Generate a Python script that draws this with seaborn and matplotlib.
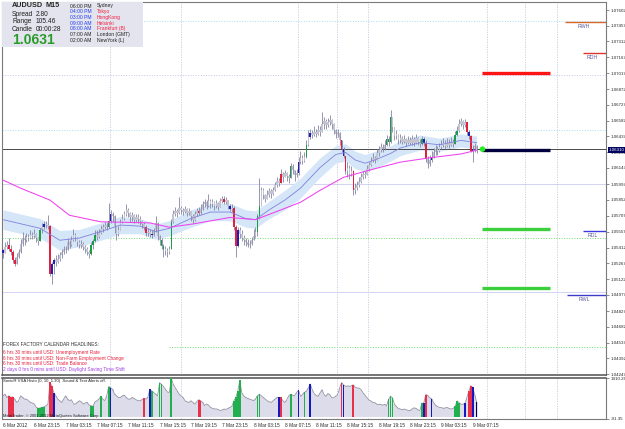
import numpy as np
import pandas as pd
import matplotlib
matplotlib.use("Agg")
import matplotlib.pyplot as plt
import matplotlib.transforms as mtransforms
from matplotlib.patches import Rectangle
import seaborn as sns

# ---------------- data (prices in pips above 1.04000) ----------------
first_open = 139
close = [
    136, 142, 144, 140, 137, 130, 126, 133, 137, 145,
    150, 148, 151, 150, 153, 152, 154, 150, 147, 157,
    160, 163, 162, 161, 117, 126, 130, 128, 131, 134,
    137, 140, 139, 146, 144, 148, 153, 151, 146, 144,
    145, 142, 140, 137, 135, 144, 147, 153, 151, 155,
    158, 160, 162, 160, 166, 172, 170, 160, 154, 157,
    165, 168, 172, 176, 173, 169, 171, 167, 169, 168,
    166, 163, 160, 155, 156, 154, 153, 157, 164, 152,
    148, 143, 140, 138, 137, 140, 165, 172, 175, 173,
    178, 176, 174, 177, 173, 175, 170, 167, 172, 175,
    173, 177, 181, 183, 180, 184, 181, 183, 180, 182,
    179, 184, 186, 183, 185, 180, 177, 178, 160, 143,
    157, 154, 150, 148, 146, 144, 145, 148, 152, 156,
    170, 180, 194, 190, 186, 190, 193, 191, 194, 199,
    203, 201, 209, 206, 210, 207, 205, 216, 213, 208,
    210, 220, 224, 221, 225, 236, 243, 247, 245, 248,
    246, 250, 248, 255, 258, 254, 257, 259, 255, 250,
    246, 247, 240, 232, 226, 212, 215, 209, 212, 194,
    196, 199, 202, 206, 209, 208, 214, 217, 221, 224,
    222, 228, 231, 234, 232, 236, 241, 239, 262, 252,
    244, 246, 240, 242, 239, 241, 238, 240, 238, 241,
    238, 242, 239, 237, 241, 238, 223, 218, 222, 224,
    229, 232, 230, 234, 236, 238, 235, 238, 236, 239,
    237, 245, 249, 255, 258, 254, 257, 248, 244, 230,
    232, 235, 231]
high = [
    140, 146, 147, 150, 144, 139, 133, 136, 140, 149,
    156, 153, 155, 154, 157, 156, 158, 155, 151, 159,
    164, 166, 166, 171, 162, 128, 132, 134, 135, 137,
    140, 143, 143, 150, 148, 152, 158, 155, 150, 148,
    148, 146, 144, 142, 139, 146, 149, 157, 157, 158,
    162, 163, 165, 164, 182, 176, 174, 171, 160, 161,
    168, 172, 175, 181, 178, 174, 174, 172, 172, 172,
    170, 167, 165, 162, 159, 158, 157, 159, 170, 165,
    153, 150, 145, 143, 141, 143, 168, 176, 179, 177,
    188, 180, 178, 180, 178, 178, 175, 172, 175, 178,
    179, 181, 184, 186, 185, 191, 186, 186, 184, 185,
    183, 187, 189, 189, 188, 185, 181, 181, 180, 162,
    160, 160, 157, 153, 150, 149, 148, 151, 158, 160,
    172, 205, 197, 196, 191, 194, 196, 195, 197, 202,
    206, 205, 214, 211, 213, 211, 209, 219, 218, 213,
    214, 225, 230, 227, 229, 240, 250, 251, 250, 253,
    251, 254, 253, 266, 262, 260, 261, 263, 260, 256,
    251, 251, 248, 240, 234, 226, 220, 217, 216, 213,
    201, 203, 206, 210, 212, 212, 217, 220, 225, 228,
    226, 232, 235, 238, 237, 240, 245, 244, 268, 262,
    252, 250, 245, 246, 244, 245, 242, 244, 243, 245,
    243, 246, 243, 241, 244, 243, 240, 226, 227, 230,
    233, 236, 235, 238, 240, 242, 240, 242, 241, 243,
    241, 249, 253, 260, 261, 259, 260, 257, 250, 245,
    236, 238, 236]
low = [
    132, 136, 140, 138, 134, 127, 124, 126, 132, 136,
    143, 144, 146, 147, 149, 149, 150, 146, 144, 147,
    155, 158, 159, 158, 115, 108, 117, 124, 127, 129,
    132, 135, 136, 140, 141, 143, 147, 147, 143, 141,
    141, 139, 136, 134, 132, 134, 140, 146, 148, 150,
    154, 156, 158, 157, 159, 164, 165, 155, 148, 152,
    158, 164, 167, 170, 169, 165, 166, 164, 165, 164,
    162, 159, 157, 152, 152, 151, 150, 152, 156, 148,
    144, 140, 133, 134, 133, 135, 140, 164, 170, 169,
    172, 172, 171, 173, 170, 171, 166, 164, 166, 170,
    171, 172, 176, 179, 177, 179, 178, 179, 176, 178,
    176, 179, 182, 181, 181, 177, 175, 174, 157, 133,
    142, 150, 147, 144, 143, 142, 141, 144, 148, 151,
    152, 168, 180, 186, 183, 186, 188, 187, 190, 193,
    197, 198, 201, 202, 206, 203, 201, 205, 209, 203,
    206, 208, 218, 218, 220, 224, 235, 241, 242, 244,
    243, 245, 244, 248, 251, 251, 252, 254, 251, 246,
    242, 243, 236, 229, 224, 209, 206, 204, 207, 190,
    191, 194, 197, 201, 204, 205, 209, 212, 216, 220,
    219, 222, 226, 229, 229, 231, 235, 235, 238, 248,
    240, 241, 237, 238, 237, 238, 235, 237, 236, 236,
    235, 237, 236, 234, 236, 235, 220, 215, 216, 220,
    224, 227, 227, 229, 232, 234, 232, 234, 233, 235,
    234, 237, 244, 248, 253, 251, 252, 245, 241, 229,
    220, 229, 228]
volume = [
    1040, 1120, 960, 1040, 960, 990, 880, 720, 800, 1040,
    960, 880, 880, 800, 720, 690, 640, 480, 430, 450,
    480, 500, 560, 640, 1700, 1500, 1200, 1040, 880, 800,
    720, 880, 1040, 880, 800, 850, 640, 640, 720, 800,
    750, 640, 690, 720, 590, 560, 530, 750, 800, 880,
    1010, 880, 800, 1040, 1490, 1440, 1360, 1120, 1040, 960,
    960, 1040, 1070, 960, 880, 880, 960, 910, 850, 800,
    800, 850, 910, 880, 960, 1360, 1280, 1200, 1120, 1040,
    1680, 1600, 1490, 1360, 1230, 1200, 1900, 1600, 1440, 1280,
    1120, 1040, 960, 800, 750, 720, 800, 720, 640, 750,
    850, 800, 720, 560, 640, 590, 480, 430, 400, 400,
    370, 320, 350, 400, 370, 430, 480, 530, 800, 960,
    1280, 1790, 1200, 1040, 960, 910, 880, 850, 800, 880,
    1040, 1120, 1040, 960, 880, 800, 750, 720, 800, 880,
    960, 960, 960, 800, 720, 850, 1040, 1120, 1070, 1040,
    1200, 1310, 1020, 1100, 1210, 1260, 1420, 1620, 1340, 1150,
    1060, 1020, 1180, 1340, 1100, 1020, 1150, 1100, 945, 945,
    1020, 1100, 1420, 1685, 1575, 1500, 1530, 1500, 1530, 1575,
    1460, 1420, 1420, 1340, 1180, 1060, 945, 835, 790, 710,
    710, 630, 615, 630, 580, 630, 550, 865, 1020, 945,
    630, 520, 425, 395, 360, 395, 360, 330, 315, 395,
    455, 425, 360, 315, 680, 680, 1100, 1060, 945, 900,
    710, 580, 520, 470, 470, 425, 455, 470, 425, 395,
    425, 520, 790, 710, 630, 630, 680, 945, 1260, 1530,
    1460, 1100, 740]

candle_red = [3, 4, 5, 6, 24, 73, 100, 113, 118, 119, 142, 173, 175, 179, 216, 237, 239]
candle_green = [19, 45, 46, 47, 54, 81, 82, 86, 130, 131, 147, 155, 196, 197, 198, 214, 231, 232]
candle_blue = [0, 21, 25, 26, 55, 76, 116, 120, 151, 157, 174, 215, 219, 238, 240]

vol_red = [3, 4, 5, 24, 25, 72, 100, 101, 142, 173, 179, 216, 238, 239]
vol_green = [18, 19, 20, 21, 45, 46, 50, 54, 76, 80, 81, 86, 118, 119, 120, 121,
             130, 131, 147, 154, 197, 198, 199, 214, 231, 232, 233]
vol_blue = [26, 55, 75, 141, 151, 157, 174, 215, 219, 236, 240]
vol_navy = [242]

# moving averages at a few bars
pink_x = [0, 9, 24, 34, 50, 75, 85, 97, 116, 129, 142, 152, 162, 174, 188, 203, 218, 234, 242]
pink_p = [203.5, 196, 185, 171, 165, 164, 160, 163, 169, 167, 176, 183, 194, 206, 213, 220, 224, 227.5, 231]
blue_x = [0, 19, 29, 39, 50, 60, 70, 78, 85, 96, 106, 116, 124, 129, 136, 144, 152, 162, 170, 175,
          180, 185, 190, 198, 203, 213, 223, 234, 242]
blue_p = [167, 159, 148, 150, 156, 162, 161, 156, 159, 168, 174, 174, 168, 167, 176, 185, 196, 215, 227, 229,
          222, 219, 222, 228, 233, 238, 236, 240, 238]
band_w = [9, 9, 9, 8, 8, 8, 7, 7, 7, 8, 8, 8, 8, 8, 8, 9, 9, 9, 8, 8, 8, 8, 8, 7, 7, 7, 6, 6, 6]

price_ticks = [1.07602, 1.07457, 1.07312, 1.07167, 1.07017, 1.06872, 1.06727, 1.06582, 1.06437,
               1.06292, 1.06147, 1.05997, 1.05852, 1.05707, 1.05557, 1.05412, 1.05267, 1.05122,
               1.04977, 1.04827, 1.04682, 1.04537, 1.04392, 1.04247]
time_labels = ["6 Mar 2012", "6 Mar 23:15", "7 Mar 03:15", "7 Mar 07:15", "7 Mar 11:15",
               "7 Mar 15:15", "7 Mar 19:15", "7 Mar 23:15", "8 Mar 03:15", "8 Mar 07:15",
               "8 Mar 11:15", "8 Mar 15:15", "8 Mar 19:15", "8 Mar 23:15", "9 Mar 03:15",
               "9 Mar 07:15"]
time_label_bars = list(range(0, 241, 16))

round_levels = [1.075, 1.070, 1.065, 1.060, 1.055, 1.050, 1.045]
round_colors = ["#a6dcf2", "#c4c4f0", "#a6dcf2", "#d2d2f4", "#70dd70", "#d2d2f4", "#70dd70"]
round_styles = [":", ":", ":", "-", ":", "-", ":"]
vgrid_bars = [54.7, 91, 150.8, 170.7, 186.5, 247.3, 266.7, 283.1]

current_price = 1.0631
target_levels = [1.0702, 1.0631, 1.05583, 1.05039]
target_colors = ["#ff1414", "#000040", "#3ccf3c", "#3ccf3c"]
pivot_names = ["RWH", "RDH", "RDL", "RWL"]
pivot_levels = [1.07491, 1.07206, 1.05565, 1.04975]
pivot_start = [287.2, 296.4, 296.4, 288.2]
pivot_colors = ["#d8682a", "#e03434", "#3c3cdc", "#3c3cc8"]

sessions_time = ["06:00 PM", "04:00 PM", "03:00 PM", "09:00 AM", "08:00 AM", "07:00 AM", "02:00 AM"]
sessions_city = ["Sydney", "Tokyo", "HongKong", "Helsinki", "Frankfurt (B)", "London (GMT)", "NewYork (L)"]
sessions_open = [False, True, True, True, True, False, False]

headlines = ["6 hrs 30 mins until USD: Unemployment Rate",
             "6 hrs 30 mins until USD: Non-Farm Employment Change",
             "6 hrs 30 mins until USD: Trade Balance",
             "2 days 0 hrs 0 mins until USD: Daylight Saving Time Shift"]
headline_colors = ["#e8203c", "#e8203c", "#e8203c", "#a040e0"]

# ---------------- build frame ----------------
pip = 1e-4
base = 1.04
df = pd.DataFrame({"bar": np.arange(len(close)), "close": close, "high": high, "low": low, "vol": volume})
df["open"] = df["close"].shift(1).fillna(first_open)
df["high"] = df[["high", "open", "close"]].max(axis=1)
df["low"] = df[["low", "open", "close"]].min(axis=1)
for c in ["open", "high", "low", "close"]:
    df[c] = base + df[c] * pip

palette = {"r": "#e0203c", "g": "#1c9c44", "b": "#2020b4", "n": "#000050", ".": "#c4c4d0"}
df["ccol"] = "."
df.loc[candle_red, "ccol"] = "r"
df.loc[candle_green, "ccol"] = "g"
df.loc[candle_blue, "ccol"] = "b"

sns.set_style("white")
plt.rcParams["font.family"] = ["Liberation Sans", "DejaVu Sans"]

W, H = 625, 429
fig = plt.figure(figsize=(W / 100, H / 100), dpi=100)
fig.patch.set_facecolor("white")
ax = fig.add_axes([2 / W, (H - 375) / H, 604 / W, 373 / H])
ax2 = fig.add_axes([2 / W, (H - 419) / H, 604 / W, 41 / H])
xmin, xmax = -0.5, 308.1

# ---------------- main price window ----------------
for lvl, col, ls in zip(round_levels, round_colors, round_styles):
    start = 85 if lvl == 1.045 else xmin
    ax.hlines(lvl, start, xmax, color=col, lw=0.7, linestyles=ls, zorder=1)
for b in vgrid_bars:
    ax.axvline(b, color="#c8c8dc", lw=0.6, ls=(0, (1.5, 1.5)), zorder=1)
    ax2.axvline(b, color="#c8c8dc", lw=0.6, ls=(0, (1.5, 1.5)), zorder=1)

bx = np.array(blue_x)
bp = base + np.array(blue_p) * pip
bw = np.array(band_w) * pip
ax.fill_between(bx, bp - bw, bp + bw, color="#d4e6f8", lw=0, zorder=1.5)

ax.axhline(current_price + 0.0001, color="#4a4a4a", lw=0.7, zorder=2)

ax.vlines(df["bar"], df["low"], df["high"], color="#8484a4", lw=0.6, zorder=3)
body_bottom = df[["open", "close"]].min(axis=1)
body_h = (df["close"] - df["open"]).abs().clip(lower=0.00003)
ax.bar(df["bar"], body_h, bottom=body_bottom, width=0.8,
       color=df["ccol"].map(palette), edgecolor="none", zorder=4)

sns.lineplot(x=bx, y=bp, ax=ax, color="#8080dc", lw=0.6, zorder=5)
sns.lineplot(x=pink_x, y=base + np.array(pink_p) * pip, ax=ax, color="#f040f0", lw=0.75, zorder=5)

ax.hlines(target_levels, 244.8, 279.5, colors=target_colors, lw=2.4, zorder=6)
sns.scatterplot(x=[245], y=[current_price + 0.0001], ax=ax, color="#22ee22", s=16,
                edgecolor="none", zorder=7)

for name, lvl, st, col in zip(pivot_names, pivot_levels, pivot_start, pivot_colors):
    ax.hlines(lvl, st, xmax, color=col, lw=1.0, zorder=6)
    ax.annotate(name, ((st + xmax) / 2 - 1, lvl), xytext=(0, -1.2), textcoords="offset points",
                ha="center", va="top", fontsize=3.8, color="#5a5a9a")

ax.set_xlim(xmin, xmax)
ax.set_ylim(1.04238, 1.07676)
ax.set_xticks([])
ax.yaxis.tick_right()
ax.set_yticks(price_ticks)
ax.set_yticklabels([f"{v:.5f}" for v in price_ticks])
ax.tick_params(axis="y", labelsize=3.2, length=2, width=0.5, pad=1.2, color="#606060")
trans = mtransforms.blended_transform_factory(ax.transAxes, ax.transData)
ax.text(1.005, current_price, f"{current_price:.5f}", transform=trans, fontsize=3.2, color="white",
        va="center", ha="left", zorder=10,
        bbox=dict(boxstyle="square,pad=0.25", fc="#000060", ec="none"))

# info panel
ax.add_patch(Rectangle((0, 0.8794), 0.2334, 0.1206, transform=ax.transAxes,
                       facecolor="#e4e4ee", edgecolor="none", zorder=8))
ax.text(0.0166, 0.9893, "AUDUSD", transform=ax.transAxes, fontsize=5.2, fontweight="bold", va="center", zorder=9)
ax.text(0.0712, 0.9893, "M15", transform=ax.transAxes, fontsize=5.2, fontweight="bold", va="center", zorder=9)
for lab, val, fy in zip(["Spread", "Range", "Candle"], ["2.80", "105.46", "00:00:28"], [0.9678, 0.9464, 0.9263]):
    ax.text(0.0166, fy, lab, transform=ax.transAxes, fontsize=4.8, va="center", color="#202020", zorder=9)
    ax.text(0.0563, fy, val, transform=ax.transAxes, fontsize=4.8, va="center", color="#202020", zorder=9)
ax.text(0.0166, 0.8981, "1.0631", transform=ax.transAxes, fontsize=10, fontweight="bold",
        va="center", color="#2a9a2a", zorder=9)
for k, (t, city, is_open) in enumerate(zip(sessions_time, sessions_city, sessions_open)):
    fy = 1 - (6 + k * 5.72 - 2) / 373
    ax.text(0.1126, fy, t, transform=ax.transAxes, fontsize=3.6, va="center",
            color="#1c3cf0" if is_open else "#202020", zorder=9)
    ax.text(0.1573, fy, city, transform=ax.transAxes, fontsize=3.6, va="center",
            color="#f02040" if is_open else "#202020", zorder=9)

# calendar headlines
ax.text(0.0017, 0.0818, "FOREX FACTORY CALENDAR HEADLINES:", transform=ax.transAxes,
        fontsize=3.4, va="center", color="#303030")
for k, (txt, col) in enumerate(zip(headlines, headline_colors)):
    ax.text(0.0017, 0.0609 - k * 0.0155, txt, transform=ax.transAxes, fontsize=3.4, va="center", color=col)

# ---------------- indicator window ----------------
ax2.bar(df["bar"], df["vol"], width=1.0, color="#dcdcea", edgecolor="none", zorder=1)
sns.lineplot(x=df["bar"], y=df["vol"], ax=ax2, color="#9494a4", lw=0.6, zorder=2)
for idx, col in [(vol_red, "#e8304a"), (vol_green, "#22b04e"), (vol_blue, "#1818c0"), (vol_navy, "#000050")]:
    ax2.bar(df.loc[idx, "bar"], df.loc[idx, "vol"], width=0.85, color=col, edgecolor="none", zorder=3)

ax2.set_xlim(xmin, xmax)
ax2.set_ylim(-91.35, 1910.26)
ax2.yaxis.tick_right()
ax2.set_yticks([1910.26, -91.35])
ax2.set_yticklabels(["1910.26", "-91.35"])
ax2.tick_params(axis="y", labelsize=3.2, length=2, width=0.5, pad=1.2, color="#606060")
ax2.set_xticks(time_label_bars)
ax2.set_xticklabels(time_labels, ha="left")
ax2.tick_params(axis="x", labelsize=3.4, length=2, width=0.5, pad=1.0, color="#606060")
ax2.set_xlabel("")
ax2.set_ylabel("")
ax.set_xlabel("")
ax.set_ylabel("")
ax2.text(0.0017, 0.927, "SonicR VSA Histo (0, 10, 1.30)  Sound & Text Alerts off.", transform=ax2.transAxes,
         fontsize=3.1, va="center", color="#202020")
ax2.text(0.0017, 0.073, "MetaTrader, \u00a9 2001-2012 MetaQuotes Software Corp.", transform=ax2.transAxes,
         fontsize=2.9, va="center", color="#202020")

for a in (ax, ax2):
    a.set_facecolor("white")
    for side in ["left", "top", "right", "bottom"]:
        a.spines[side].set_visible(True)
        a.spines[side].set_color("#7a7a7a")
        a.spines[side].set_linewidth(0.8)
ax.spines["bottom"].set_color("#505050")
ax.spines["bottom"].set_linewidth(1.1)
ax2.spines["top"].set_color("#505050")
ax2.spines["top"].set_linewidth(1.1)

fig.savefig("out.png", dpi=100)
